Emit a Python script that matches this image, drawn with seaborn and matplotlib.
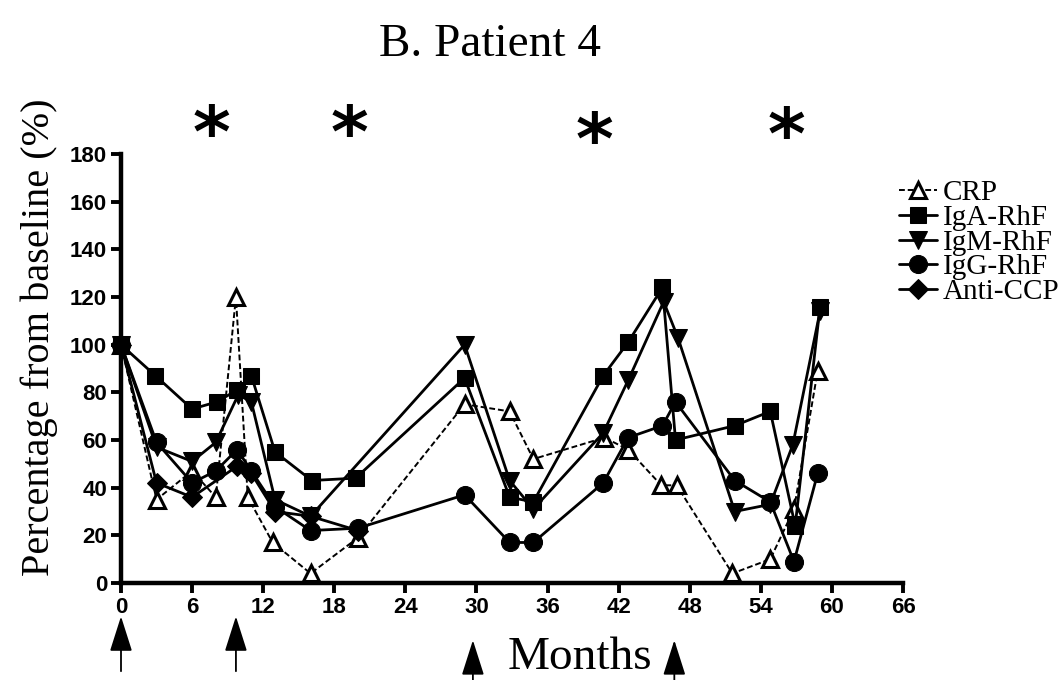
import matplotlib
matplotlib.use("Agg")
import matplotlib.pyplot as plt
import seaborn as sns
import pandas as pd

# Serial measurements, percentage of the baseline value
crp_months = [0, 3, 6, 8, 9.7, 10.7, 12.8, 16, 20, 29, 32.8, 34.8, 40.8, 42.8, 45.6, 46.9, 51.6, 54.8, 56.8, 58.8]
crp_values = [100, 35, 47, 36, 120, 36, 17, 4, 19, 75, 72, 52, 61, 56, 41, 41, 4, 10, 31, 89]

iga_months = [0, 2.9, 6, 8.1, 9.8, 11, 13, 16.1, 19.8, 29, 32.8, 34.8, 40.7, 42.8, 45.7, 46.8, 51.8, 54.8, 56.9, 59]
iga_values = [100, 87, 73, 76, 81, 87, 55, 43, 44, 86, 36, 34, 87, 101, 124, 60, 66, 72, 24, 116]

igm_months = [0, 3, 6, 8, 9.9, 11, 13, 16, 29, 32.8, 34.8, 40.7, 42.8, 45.8, 47, 51.8, 54.8, 56.7, 59]
igm_values = [100, 57, 51, 59, 79, 76, 35, 28, 100, 43, 31, 63, 85, 118, 103, 30, 33, 58, 114]

igg_months = [0, 3, 6, 8, 9.8, 11, 13, 16, 20, 29, 32.8, 34.8, 40.7, 42.8, 45.7, 46.8, 51.8, 54.8, 56.8, 58.8]
igg_values = [100, 59, 42, 47, 56, 47, 32, 22, 23, 37, 17, 17, 42, 61, 66, 76, 43, 34, 9, 46]

ccp_months = [0, 3, 6, 9.8, 11, 13, 16, 20]
ccp_values = [100, 42, 36, 49, 46, 30, 28, 22]

series_names = ["CRP", "IgA-RhF", "IgM-RhF", "IgG-RhF", "Anti-CCP"]

# Flare markers (asterisks) and treatment starts (arrows)
flare_months = [7.6, 19.3, 40.0, 56.2]
flare_levels = [187, 187, 184, 186]
treatment_months = [0, 9.7, 29.7, 46.7]
treatment_tips = [-14, -14, -24, -24]
treatment_tails = [-37, -37, -41, -41]

x_ticks = list(range(0, 67, 6))
y_ticks = list(range(0, 181, 20))

sns.set_style("ticks")
plt.rcParams["font.family"] = ["Liberation Serif", "DejaVu Serif"]
plt.rcParams["text.color"] = "black"
plt.rcParams["axes.labelcolor"] = "black"
plt.rcParams["xtick.color"] = "black"
plt.rcParams["ytick.color"] = "black"

fig = plt.figure(figsize=(10.6, 6.8), dpi=100)
ax = fig.add_axes([121 / 1060, 1 - 583 / 680, (903 - 121) / 1060, (583 - 154) / 680])

frames = {
    "CRP": (crp_months, crp_values),
    "IgA-RhF": (iga_months, iga_values),
    "IgM-RhF": (igm_months, igm_values),
    "IgG-RhF": (igg_months, igg_values),
    "Anti-CCP": (ccp_months, ccp_values),
}
styles = {
    "CRP": dict(marker="^", markerfacecolor="white", markeredgecolor="black",
                markeredgewidth=2.2, markersize=12, linestyle=(0, (3, 1.5)), linewidth=1.4),
    "IgA-RhF": dict(marker="s", markerfacecolor="black", markeredgecolor="black",
                    markersize=12, linestyle="-", linewidth=2.0),
    "IgM-RhF": dict(marker="v", markerfacecolor="black", markeredgecolor="black",
                    markersize=13, linestyle="-", linewidth=2.0),
    "IgG-RhF": dict(marker="o", markerfacecolor="black", markeredgecolor="black",
                    markersize=13, linestyle="-", linewidth=2.0),
    "Anti-CCP": dict(marker="D", markerfacecolor="black", markeredgecolor="black",
                     markersize=10, linestyle="-", linewidth=2.0),
}

for name in series_names:
    m, v = frames[name]
    df = pd.DataFrame({"Months": m, "Percent": v})
    sns.lineplot(data=df, x="Months", y="Percent", ax=ax, color="black",
                 label=name, clip_on=False, zorder=3, **styles[name])

ax.set_xlim(0, 66)
ax.set_ylim(0, 180)
ax.set_xticks(x_ticks)
ax.set_yticks(y_ticks)
tick_font = dict(family=["Liberation Sans Narrow", "Liberation Sans", "DejaVu Sans"],
                 weight="bold", size=16)
ax.set_xticklabels([str(t) for t in x_ticks], fontdict=tick_font)
ax.set_yticklabels([str(t) for t in y_ticks], fontdict=tick_font)
ax.tick_params(axis="both", direction="out", length=7, width=2.8, pad=3, color="black")

for side in ("top", "right"):
    ax.spines[side].set_visible(False)
for side in ("left", "bottom"):
    ax.spines[side].set_linewidth(3.2)
    ax.spines[side].set_color("black")

ax.set_xlabel("")
ax.set_ylabel("Percentage from baseline (%)", fontsize=29)
ax.yaxis.set_label_coords(-0.081, 0.573)

fig.text(490 / 1060, 1 - 45 / 680, "B. Patient 4", fontsize=34,
         ha="center", va="center")

for m, lvl in zip(flare_months, flare_levels):
    ax.text(m, lvl, "*", fontsize=52, fontweight="bold", ha="center", va="center",
            family="DejaVu Sans", clip_on=False)

for m, tip, tail in zip(treatment_months, treatment_tips, treatment_tails):
    ax.annotate("", xy=(m, tip), xytext=(m, tail),
                arrowprops=dict(arrowstyle="-|>,head_length=1.1,head_width=0.35",
                                mutation_scale=20, lw=1.3, color="black",
                                shrinkA=0, shrinkB=0),
                annotation_clip=False)

ax.text(38.7, -36, "Months", fontsize=34, ha="center", va="baseline", clip_on=False)

handles, labels = ax.get_legend_handles_labels()
ax.legend_.remove()
fig.legend(handles, labels, loc="upper left", bbox_to_anchor=(899 / 1060, 1 - 180 / 680),
           frameon=False, fontsize=21, labelspacing=-0.06, handlelength=1.3,
           handletextpad=0.2, borderpad=0, borderaxespad=0)

fig.savefig("out.png", dpi=100)
